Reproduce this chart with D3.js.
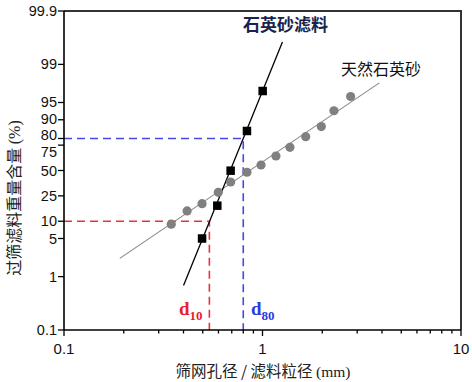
<!DOCTYPE html>
<html><head><meta charset="utf-8">
<script src="https://cdn.jsdelivr.net/npm/d3@7"></script>
<style>body{margin:0;background:#fff}svg{display:block}</style>
</head><body>
<svg id="c" width="472" height="382"></svg>
<script>
// ---- data ----
const quartzX = [0.496, 0.592, 0.691, 0.835, 1.002];
const quartzY = [5.0, 17.9, 49.8, 84.7, 96.9];
const naturalX = [0.347, 0.417, 0.496, 0.599, 0.691, 0.835, 0.983, 1.169, 1.375, 1.651, 1.978, 2.29, 2.78];
const naturalY = [8.9, 14.8, 19.2, 28.0, 37.8, 48.1, 55.9, 65.2, 73.2, 81.2, 87.0, 93.0, 96.1];
const quartzFitX = [0.40, 1.26];
const quartzFitY = [0.68, 99.62];
const naturalFitX = [0.191, 3.88];
const naturalFitY = [2.18, 97.8];
const d10 = 0.54, d80 = 0.80;
const p10 = 10, p80 = 80;
const yTicks = [0.1, 1, 5, 10, 25, 50, 75, 80, 90, 95, 99, 99.9];
const yTickLabels = ["0.1", "1", "5", "10", "25", "50", "75", "80", "90", "95", "99", "99.9"];
const xMajor = [0.1, 1, 10];
const xTickLabels = ["0.1", "1", "10"];

// ---- layout ----
const L = 64, R = 461, T = 11, B = 330;
const svg = d3.select("#c");
const logit = p => Math.log((p / 100) / (1 - p / 100));
const x = d3.scaleLog().domain([0.1, 10]).range([L, R]);
const yl = d3.scaleLinear().domain([logit(0.1), logit(99.9)]).range([B, T]);
const y = p => yl(logit(p));

const num = "'Liberation Sans', Arial, sans-serif";
const cjk = "'Noto Sans CJK SC', sans-serif";
const serif = "'Liberation Serif', 'Times New Roman', serif";

// frame top/right
svg.append("path").attr("d", `M${L},${T}H${R}V${B}`).attr("fill", "none")
  .attr("stroke", "#333").attr("stroke-width", 2);

// dashed guides
const g = svg.append("g").attr("fill", "none").attr("stroke-width", 1.6).attr("stroke-dasharray", "8,5");
g.append("path").attr("d", `M${L},${y(p10)}H${x(d10)}V${B}`).attr("stroke", "#e8323a");
g.append("path").attr("d", `M${L},${y(p80)}H${x(d80)}V${B}`).attr("stroke", "#4747e6");

// fit lines
const line = d3.line().x(d => x(d[0])).y(d => y(d[1]));
svg.append("path").datum(naturalFitX.map((v, i) => [v, naturalFitY[i]]))
  .attr("d", line).attr("fill", "none").attr("stroke", "#888").attr("stroke-width", 1.1);
svg.append("path").datum(quartzFitX.map((v, i) => [v, quartzFitY[i]]))
  .attr("d", line).attr("fill", "none").attr("stroke", "#000").attr("stroke-width", 1.3);

// markers
svg.append("g").selectAll("circle").data(naturalX).join("circle")
  .attr("cx", d => x(d)).attr("cy", (d, i) => y(naturalY[i])).attr("r", 4.6).attr("fill", "#808080");
const s = 8.5;
svg.append("g").selectAll("rect").data(quartzX).join("rect")
  .attr("x", d => x(d) - s / 2).attr("y", (d, i) => y(quartzY[i]) - s / 2)
  .attr("width", s).attr("height", s).attr("fill", "#000");

// x axis
const xAll = [];
for (let dec = 0.1; dec < 10; dec *= 10) for (let k = 1; k <= 9; k++) xAll.push(+(dec * k).toPrecision(3));
xAll.push(10);
const xa = svg.append("g");
xa.append("line").attr("x1", L).attr("x2", R).attr("y1", B).attr("y2", B).attr("stroke", "#000").attr("stroke-width", 1.6);
xa.selectAll("line.t").data(xAll).join("line").attr("class", "t")
  .attr("x1", d => x(d)).attr("x2", d => x(d)).attr("y1", B)
  .attr("y2", d => B + (xMajor.includes(d) ? 6 : 3.5)).attr("stroke", "#000").attr("stroke-width", 1.3);
xa.selectAll("text").data(xMajor).join("text")
  .attr("x", d => x(d)).attr("y", 354).attr("text-anchor", "middle")
  .attr("font-family", num).attr("font-size", 15).attr("fill", "#111")
  .text((d, i) => xTickLabels[i]);

// y axis
const ya = svg.append("g");
ya.append("line").attr("x1", L).attr("x2", L).attr("y1", T).attr("y2", B).attr("stroke", "#000").attr("stroke-width", 1.6);
ya.selectAll("line.t").data(yTicks).join("line").attr("class", "t")
  .attr("x1", L - 6).attr("x2", L).attr("y1", d => y(d)).attr("y2", d => y(d))
  .attr("stroke", "#000").attr("stroke-width", 1.3);
const yOff = {75: 7, 80: -4, 90: -1, 95: -1};
ya.selectAll("text").data(yTicks).join("text")
  .attr("x", 57).attr("y", d => y(d) + (yOff[d] || 0)).attr("dy", "0.35em")
  .attr("text-anchor", "end").attr("font-family", num).attr("font-size", 14.5).attr("fill", "#111")
  .text((d, i) => yTickLabels[i]);

// axis titles
const xt = svg.append("text").attr("x", 263).attr("y", 377).attr("text-anchor", "middle")
  .attr("font-size", 15.5).attr("fill", "#222");
xt.append("tspan").attr("font-family", cjk).text("筛网孔径 / 滤料粒径 ");
xt.append("tspan").attr("font-family", serif).text("(mm)");

const yt = svg.append("text").attr("transform", "translate(20,198) rotate(-90)")
  .attr("text-anchor", "middle").attr("font-size", 16).attr("fill", "#222");
yt.append("tspan").attr("font-family", cjk).text("过筛滤料重量含量 ");
yt.append("tspan").attr("font-family", serif).text("(%)");

// annotations
svg.append("text").attr("x", 243).attr("y", 31).attr("font-family", cjk).attr("font-weight", "bold")
  .attr("font-size", 17).attr("fill", "#17244f").text("石英砂滤料");
svg.append("text").attr("x", 341).attr("y", 75).attr("font-family", cjk)
  .attr("font-size", 16).attr("fill", "#111").text("天然石英砂");

function dLabel(px, col, sub) {
  const t = svg.append("text").attr("x", px).attr("y", 315).attr("font-family", serif)
    .attr("font-weight", "bold").attr("fill", col).attr("font-size", 19);
  t.append("tspan").text("d");
  t.append("tspan").attr("font-size", 13).attr("dy", 5).text(sub);
}
dLabel(179, "#e8222a", "10");
dLabel(251, "#2a3be0", "80");
</script>
</body></html>
